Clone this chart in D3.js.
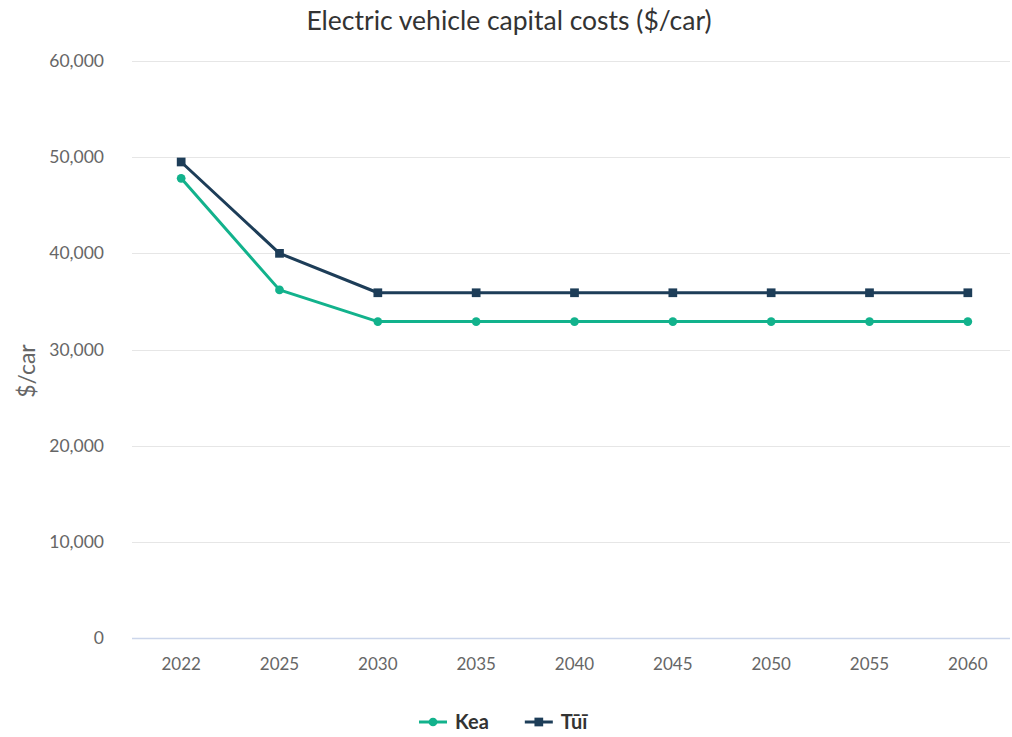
<!DOCTYPE html>
<html>
<head>
<meta charset="utf-8">
<script src="https://cdn.jsdelivr.net/npm/d3@7"></script>
<style>
  html, body { margin: 0; padding: 0; background: #fff; }
  svg { display: block; font-family: "Lato", "Noto Sans", sans-serif; }
</style>
</head>
<body>
<svg id="chart" width="1012" height="737"></svg>
<script>
// Electric vehicle capital costs by scenario
const years = ["2022", "2025", "2030", "2035", "2040", "2045", "2050", "2055", "2060"];
const keaCosts = [47800, 36200, 32900, 32900, 32900, 32900, 32900, 32900, 32900];
const tuiCosts = [49500, 40000, 35900, 35900, 35900, 35900, 35900, 35900, 35900];
const yTicks = [0, 10000, 20000, 30000, 40000, 50000, 60000];

const series = [
  { name: "Kea", values: keaCosts, color: "#12b28c", symbol: "circle" },
  { name: "Tūī", values: tuiCosts, color: "#1d3d58", symbol: "square" }
];

const svg = d3.select("#chart");
const plot = { left: 132, right: 1017, gridRight: 1010, top: 61, bottom: 638 };

const x = d3.scaleBand().domain(years).range([plot.left, plot.right]);
const y = d3.scaleLinear().domain([0, 60000]).range([plot.bottom, plot.top]);
const fmt = d3.format(",");

// Title
svg.append("text")
  .attr("x", 509).attr("y", 30)
  .attr("text-anchor", "middle")
  .attr("fill", "#333333")
  .style("font-size", "26.5px")
  .text("Electric vehicle capital costs ($/car)");

// Gridlines
svg.append("g")
  .selectAll("line")
  .data(yTicks.filter(d => d > 0))
  .join("line")
  .attr("x1", plot.left).attr("x2", plot.gridRight)
  .attr("y1", d => Math.round(y(d)) + 0.5).attr("y2", d => Math.round(y(d)) + 0.5)
  .attr("stroke", "#e6e6e6").attr("stroke-width", 1);

// Y axis labels
const yAxis = svg.append("g")
  .attr("transform", `translate(${plot.left},0)`)
  .call(d3.axisLeft(y).tickValues(yTicks).tickFormat(fmt).tickSize(0).tickPadding(28));
yAxis.select(".domain").remove();
yAxis.selectAll("text")
  .attr("fill", "#666666")
  .style("font-size", "17.5px")
  .style("font-family", "Lato, 'Noto Sans', sans-serif");

// Y axis title
svg.append("text")
  .attr("transform", "translate(35,371) rotate(-90)")
  .attr("text-anchor", "middle")
  .attr("fill", "#666666")
  .style("font-size", "23px")
  .text("$/car");

// X axis
const xAxis = svg.append("g")
  .attr("transform", `translate(0,${plot.bottom})`)
  .call(d3.axisBottom(x).tickSize(0).tickPadding(20));
xAxis.select(".domain")
  .attr("d", `M${plot.left},0.5H${plot.gridRight}`)
  .attr("stroke", "#ccd6eb").attr("stroke-width", 1.5);
xAxis.selectAll("text")
  .attr("fill", "#666666")
  .style("font-size", "17px")
  .style("font-family", "Lato, 'Noto Sans', sans-serif");

// Series lines and markers
const line = d3.line()
  .x((d, i) => x(years[i]) + x.bandwidth() / 2)
  .y(d => y(d));

const symbolFor = s => d3.symbol()
  .type(s.symbol === "circle" ? d3.symbolCircle : d3.symbolSquare)
  .size(s.symbol === "circle" ? 60 : 76);

series.forEach(s => {
  const g = svg.append("g");
  g.append("path")
    .datum(s.values)
    .attr("d", line)
    .attr("fill", "none")
    .attr("stroke", s.color)
    .attr("stroke-width", 3)
    .attr("stroke-linejoin", "round");
  g.selectAll("path.marker")
    .data(s.values)
    .join("path")
    .attr("class", "marker")
    .attr("transform", (d, i) => `translate(${x(years[i]) + x.bandwidth() / 2},${y(d)})`)
    .attr("d", symbolFor(s))
    .attr("fill", s.color);
});

// Legend
const legend = svg.append("g").attr("transform", "translate(419,722)");
let lx = 0;
series.forEach(s => {
  const item = legend.append("g").attr("transform", `translate(${lx},0)`);
  item.append("line")
    .attr("x1", 0).attr("x2", 28).attr("y1", 0).attr("y2", 0)
    .attr("stroke", s.color).attr("stroke-width", 3);
  item.append("path")
    .attr("transform", "translate(14,0)")
    .attr("d", symbolFor(s))
    .attr("fill", s.color);
  const t = item.append("text")
    .attr("x", 36).attr("y", 7)
    .attr("fill", "#333333")
    .style("font-size", "20px")
    .style("font-weight", "bold")
    .text(s.name);
  lx += 36 + t.node().getComputedTextLength() + 36;
});
</script>
</body>
</html>
